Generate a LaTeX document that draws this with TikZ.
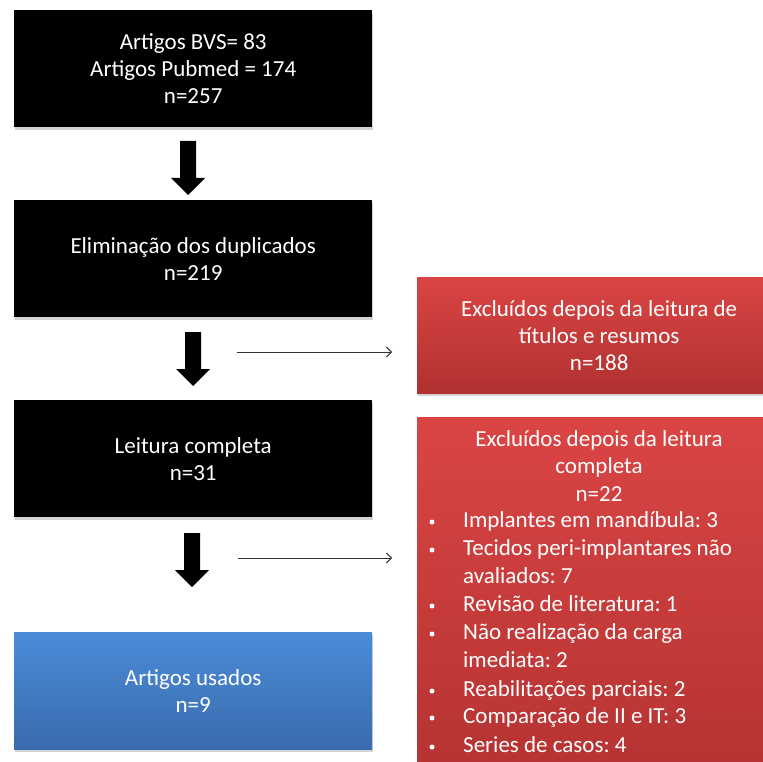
\documentclass[tikz,border=0pt]{standalone}
\usepackage{fontspec}
\setmainfont{Carlito}
\usetikzlibrary{arrows.meta,shadows}
\definecolor{redtop}{HTML}{DA4544}
\definecolor{redbot}{HTML}{B03130}
\definecolor{bluetop}{HTML}{4A8CD8}
\definecolor{bluebot}{HTML}{3A6BAD}
\tikzset{
  box/.style={anchor=north west, minimum width=358pt, minimum height=117pt, align=center,
    text=white, font=\fontsize{23}{27}\selectfont\frenchspacing, inner sep=0pt,
    drop shadow={opacity=0.35, shadow xshift=1pt, shadow yshift=-3pt}},
  blackbox/.style={box, fill=black},
  bluebox/.style={box, top color=bluetop, bottom color=bluebot},
  redbox/.style={box, top color=redtop, bottom color=redbot, minimum width=364pt},
  txt/.style={text=white, font=\fontsize{23}{27.5}\selectfont\frenchspacing, align=center, inner sep=0pt},
  itemtxt/.style={text=white, font=\fontsize{23}{24}\selectfont\frenchspacing, anchor=west, inner sep=0pt, text height=15pt, text depth=4pt},
  bul/.style={circle, fill=white, inner sep=0pt, minimum size=5pt},
  thinarrow/.style={-{Straight Barb[length=5pt,width=10pt]}, line width=0.9pt, draw=black!80},
  blockarrow/.pic={\fill[black] (-8,0) -- (8,0) -- (8,37) -- (17,37) -- (0,54) -- (-17,37) -- (-8,37) -- cycle;}
}
\begin{document}
\begin{tikzpicture}[x=1pt,y=-1pt]
\useasboundingbox (0,0) rectangle (763,762);

\node[blackbox] (b1) at (14,10) {Artigos BVS= 83\\Artigos Pubmed = 174\\n=257};
\node[blackbox] (b2) at (14,200) {Eliminação dos duplicados\\n=219};
\node[blackbox] (b3) at (14,400) {Leitura completa\\n=31};
\node[bluebox] (b4) at (14,632) {Artigos usados\\n=9};

\node[redbox, minimum height=116pt] (r1) at (417,277) {Excluídos depois da leitura de\\títulos e resumos\\n=188};
\node[redbox, minimum height=400pt] (r2) at (417,417) {};
\node[txt] (r2t) at (599,466) {Excluídos depois da leitura\\completa\\n=22};

\node[bul] (u1) at (432,522) {};
\node[itemtxt] (i1) at (463,522) {Implantes em mandíbula: 3};
\node[bul] (u2) at (432,550) {};
\node[itemtxt] (i2) at (463,550) {Tecidos peri-implantares não};
\node[itemtxt] (i2b) at (463,578) {avaliados: 7};
\node[bul] (u3) at (432,606) {};
\node[itemtxt] (i3) at (463,606) {Revisão de literatura: 1};
\node[bul] (u4) at (432,634) {};
\node[itemtxt] (i4) at (463,634) {Não realização da carga};
\node[itemtxt] (i4b) at (463,662) {imediata: 2};
\node[bul] (u5) at (432,691) {};
\node[itemtxt] (i5) at (463,691) {Reabilitações parciais: 2};
\node[bul] (u6) at (432,718) {};
\node[itemtxt] (i6) at (463,718) {Comparação de II e IT: 3};
\node[bul] (u7) at (432,747) {};
\node[itemtxt] (i7) at (463,747) {Series de casos: 4};

\pic at (188,141) {blockarrow};
\pic at (193,332) {blockarrow};
\pic at (192,533) {blockarrow};

\coordinate (t1s) at (237,352);
\coordinate (t1e) at (392,352);
\coordinate (t2s) at (238,558);
\coordinate (t2e) at (392,558);
\draw[thinarrow] (t1s) -- (t1e);
\draw[thinarrow] (t2s) -- (t2e);
\end{tikzpicture}
\end{document}
